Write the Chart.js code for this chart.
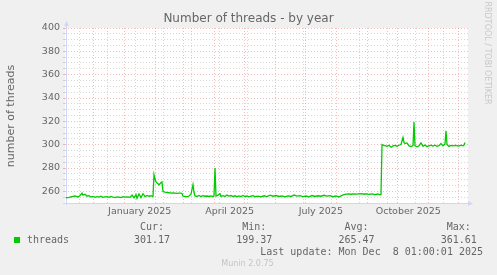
<!DOCTYPE html>
<html>
<head>
<meta charset="utf-8">
<script src="https://cdn.jsdelivr.net/npm/chart.js@4"></script>
<style>
  html, body { margin: 0; padding: 0; background: #f0f0f0; }
  #wrap { width: 497px; height: 275px; }
</style>
</head>
<body>
<div id="wrap"><canvas id="threadsChart" width="497" height="275"></canvas></div>
<script>
// days since Nov 3 2024 (graph start), one reading per entry
const days = [
  1, 4, 7, 10, 13, 15, 17, 18, 20, 22, 24, 26, 28, 30, 32, 34, 36, 38, 40, 42,
  44, 46, 48, 50, 52, 54, 56, 58, 60, 63, 65, 67, 69, 71, 72, 74, 76, 78, 80, 82,
  84, 86, 88, 89, 90, 91, 93, 94, 96, 97, 98, 100, 102, 104, 106, 108, 110, 112, 114, 116,
  117, 118, 120, 122, 124, 126, 128, 129, 130, 132, 134, 136, 138, 140, 142, 144, 146, 148, 149, 150,
  151, 153, 155, 156, 158, 160, 162, 164, 166, 168, 170, 172, 174, 176, 178, 180, 182, 184, 186, 188,
  190, 193, 196, 199, 202, 205, 208, 211, 214, 217, 220, 223, 226, 229, 232, 235, 238, 241, 244, 247,
  250, 253, 256, 259, 262, 265, 268, 271, 274, 277, 280, 283, 286, 289, 292, 295, 298, 301, 304, 307,
  310, 313, 315, 316, 317, 318, 320, 322, 324, 326, 328, 330, 332, 334, 336, 338, 339, 340, 342, 344,
  346, 348, 349, 350, 352, 354, 356, 358, 360, 362, 364, 366, 368, 370, 372, 374, 376, 378, 380, 381,
  382, 384, 386, 388, 390, 392, 394, 396, 398, 399, 400
];
const threads = [
  254.5, 254.8, 255.5, 256.0, 255.2, 256.5, 258.5, 256.8, 257.5, 255.8, 256.3, 255.2, 255.6, 254.8, 255.5, 255.0, 255.8, 254.9, 255.2, 255.5,
  254.8, 255.6, 255.0, 254.7, 255.3, 255.0, 254.6, 255.4, 255.0, 255.2, 254.8, 256.8, 254.5, 257.2, 254.0, 257.8, 254.6, 258.0, 255.5, 256.5,
  255.8, 256.2, 255.5, 274.3, 270.5, 268.0, 266.5, 265.5, 267.5, 268.0, 259.8, 259.3, 259.0, 258.8, 258.5, 258.6, 258.5, 258.3, 258.4, 258.5,
  258.2, 255.8, 255.6, 255.3, 256.0, 257.5, 265.7, 259.0, 256.0, 255.6, 256.4, 255.6, 256.3, 255.8, 256.0, 255.6, 256.0, 255.5, 256.2, 280.0,
  256.0, 256.8, 258.0, 255.6, 256.3, 255.5, 256.8, 255.9, 256.4, 255.6, 256.2, 255.4, 256.0, 255.5, 256.5, 255.6, 256.0, 255.3, 255.8, 256.3,
  255.4, 255.9, 255.3, 256.2, 255.5, 256.7, 255.8, 256.4, 255.6, 256.0, 255.2, 256.1, 255.6, 256.8, 255.9, 256.3, 255.5, 256.0, 255.3, 256.4,
  255.6, 256.2, 255.8, 256.6, 255.9, 256.3, 255.4, 256.0, 255.2, 256.5, 257.3, 257.8, 257.5, 257.9, 257.6, 258.0, 257.7, 257.9, 257.4, 257.8,
  257.2, 257.7, 257.0, 257.3, 300.0, 299.5, 299.2, 298.6, 299.4, 297.8, 298.9, 299.3, 298.7, 299.5, 300.1, 306.2, 302.0, 301.0, 301.5, 298.9,
  298.3, 299.2, 319.3, 299.0, 298.2, 299.1, 301.5, 298.7, 299.6, 298.4, 299.0, 299.6, 298.8, 299.5, 298.6, 299.2, 301.0, 299.0, 300.5, 311.9,
  300.2, 298.5, 299.3, 298.9, 299.4, 299.2, 298.8, 299.5, 299.0, 299.7, 301.9
];

// x grid: month starts (major) and 4-weekly minor lines, in days since start
const monthStartDays = [28, 59, 90, 118, 149, 179, 210, 240, 271, 302, 332, 363, 393];
const minorGridDays = [14, 42, 70, 98, 126, 154, 182, 238, 266, 294, 322, 350, 378];
const monthLabels = ['January 2025', 'April 2025', 'July 2025', 'October 2025'];
const monthLabelDays = [74.7, 164.7, 255.8, 343.3];
const yLabelValues = [260, 280, 300, 320, 340, 360, 380, 400];

const statLabels = ['Cur:', 'Min:', 'Avg:', 'Max:'];
const statValues = ['301.17', '199.37', '265.47', '361.61'];

const FONT_COLOR = '#666666';
const MGRID = 'rgba(225, 80, 80, 0.38)';
const GRID = 'rgba(150, 150, 150, 0.38)';
const AXIS = '#cfd6f8';

const muninPlugin = {
  id: 'munin',
  beforeDraw(chart) {
    const { ctx, chartArea: a } = chart;
    ctx.save();
    ctx.fillStyle = '#f0f0f0';
    ctx.fillRect(0, 0, chart.width, chart.height);
    ctx.fillStyle = '#ffffff';
    ctx.fillRect(a.left, a.top, a.right - a.left, a.bottom - a.top);
    ctx.restore();
  },
  beforeDatasetsDraw(chart) {
    const { ctx, chartArea: a } = chart;
    ctx.save();
    ctx.strokeStyle = AXIS;
    ctx.fillStyle = AXIS;
    ctx.lineWidth = 1;
    // y axis + arrow
    ctx.beginPath();
    ctx.moveTo(a.left + 1.5, a.bottom + 2);
    ctx.lineTo(a.left + 1.5, a.top - 3);
    ctx.stroke();
    ctx.beginPath();
    ctx.moveTo(a.left - 1, a.top - 2);
    ctx.lineTo(a.left + 4, a.top - 2);
    ctx.lineTo(a.left + 1.5, a.top - 7);
    ctx.closePath();
    ctx.fill();
    // x axis + arrow
    ctx.beginPath();
    ctx.moveTo(a.left - 2, a.bottom + 0.5);
    ctx.lineTo(a.right + 1, a.bottom + 0.5);
    ctx.stroke();
    ctx.beginPath();
    ctx.moveTo(a.right, a.bottom - 2);
    ctx.lineTo(a.right, a.bottom + 3);
    ctx.lineTo(a.right + 5, a.bottom + 0.5);
    ctx.closePath();
    ctx.fill();
    ctx.restore();
  },
  afterDraw(chart) {
    const { ctx } = chart;
    ctx.save();
    ctx.fillStyle = FONT_COLOR;
    ctx.textBaseline = 'middle';

    ctx.font = '12px "DejaVu Sans"';
    ctx.textAlign = 'center';
    ctx.fillText('Number of threads - by year', 248.5, 19);

    ctx.save();
    ctx.translate(11, 116);
    ctx.rotate(-Math.PI / 2);
    ctx.font = '11px "DejaVu Sans"';
    ctx.fillText('number of threads', 0, 0);
    ctx.restore();

    ctx.save();
    ctx.translate(487, 53);
    ctx.rotate(Math.PI / 2);
    ctx.fillStyle = '#c8c8c8';
    ctx.font = '8px "DejaVu Sans"';
    ctx.fillText('RRDTOOL / TOBI OETIKER', 0, 0);
    ctx.restore();

    // legend
    ctx.font = '10px "DejaVu Sans Mono"';
    const cols = [152, 254.3, 356.5, 458.7];
    statLabels.forEach((t, i) => ctx.fillText(t, cols[i], 227.5));
    statValues.forEach((t, i) => ctx.fillText(t, cols[i], 240));
    ctx.fillStyle = '#00cc00';
    ctx.fillRect(14, 237, 6, 6);
    ctx.fillStyle = FONT_COLOR;
    ctx.textAlign = 'left';
    ctx.fillText('threads', 27, 240);
    ctx.textAlign = 'right';
    ctx.fillText('Last update: Mon Dec  8 01:00:01 2025', 483, 252);

    ctx.textAlign = 'center';
    ctx.fillStyle = '#c4c4c4';
    ctx.font = '8px "DejaVu Sans"';
    ctx.fillText('Munin 2.0.75', 247.5, 264);
    ctx.restore();
  }
};

const tickFont = { family: 'DejaVu Sans', size: 9.5 };

new Chart(document.getElementById('threadsChart').getContext('2d'), {
  type: 'line',
  data: {
    datasets: [{
      label: 'threads',
      data: days.map((d, i) => ({ x: d, y: threads[i] })),
      borderColor: '#00cc00',
      borderWidth: 1.3,
      pointRadius: 0,
      tension: 0,
      fill: false
    }]
  },
  options: {
    responsive: false,
    animation: false,
    layout: { padding: { left: 0, right: 29, top: 28, bottom: 0 } },
    plugins: { legend: { display: false }, tooltip: { enabled: false } },
    scales: {
      x: {
        type: 'linear',
        min: 0,
        max: 403,
        position: 'bottom',
        afterBuildTicks: s => {
          s.ticks = monthStartDays.map(v => ({ value: v, major: true }))
            .concat(minorGridDays.map(v => ({ value: v, major: false })));
        },
        afterFit: s => { s.height = 0; },
        ticks: { display: false },
        grid: {
          color: c => (c.tick && c.tick.major ? MGRID : GRID),
          lineWidth: 1,
          drawTicks: false
        },
        border: { display: false, dash: [1, 2] }
      },
      xLabels: {
        type: 'linear',
        min: 0,
        max: 403,
        position: 'bottom',
        afterBuildTicks: s => { s.ticks = monthLabelDays.map(v => ({ value: v })); },
        afterFit: s => { s.height = 72; },
        ticks: {
          autoSkip: false,
          maxRotation: 0,
          padding: 3,
          font: tickFont,
          color: FONT_COLOR,
          callback: (v, i) => monthLabels[i]
        },
        grid: { display: false, drawTicks: false },
        border: { display: false }
      },
      y: {
        min: 250,
        max: 400,
        afterBuildTicks: s => {
          const t = [];
          for (let v = 250; v <= 400; v += 5) t.push({ value: v, major: yLabelValues.includes(v) });
          s.ticks = t;
        },
        afterFit: s => { s.width = 65; },
        ticks: {
          autoSkip: false,
          padding: 3,
          font: tickFont,
          color: FONT_COLOR,
          callback: v => (yLabelValues.includes(v) ? String(v) : '')
        },
        grid: {
          color: c => (c.tick && c.tick.major ? MGRID : GRID),
          lineWidth: 1,
          tickLength: 2
        },
        border: { display: false, dash: [1, 2] }
      }
    }
  },
  plugins: [muninPlugin]
});
</script>
</body>
</html>
